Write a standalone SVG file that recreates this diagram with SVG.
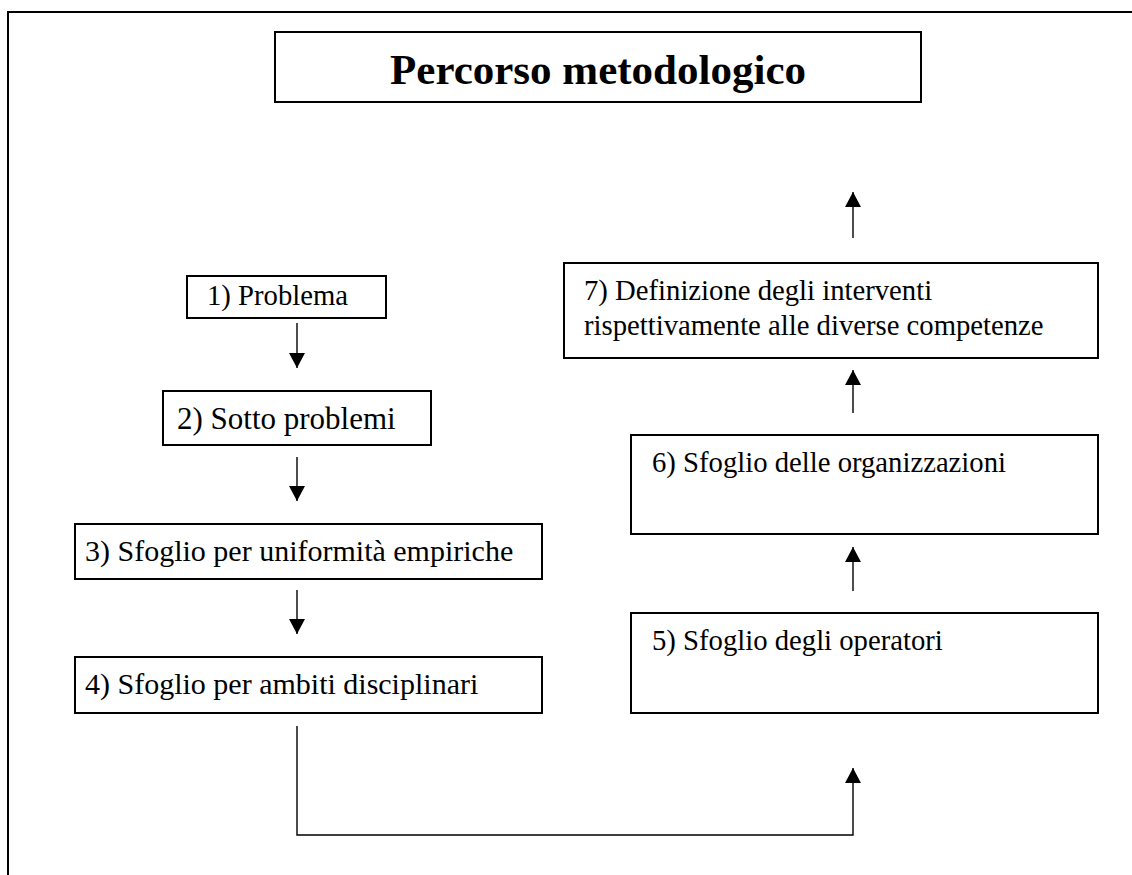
<svg xmlns="http://www.w3.org/2000/svg" width="1132" height="875" viewBox="0 0 1132 875">
<style>
.box{fill:#fff;stroke:#000;stroke-width:2}
.t{font-family:"Liberation Serif","Times New Roman",serif;font-size:28.7px;fill:#000}
.tl{font-family:"Liberation Serif","Times New Roman",serif;font-size:30px;fill:#000}
.title{font-family:"Liberation Serif","Times New Roman",serif;font-size:43px;font-weight:bold;fill:#000}
.c{fill:none;stroke:#000;stroke-width:1.4}
</style>
<defs>
<marker id="ah" markerUnits="userSpaceOnUse" markerWidth="16" markerHeight="16" viewBox="0 0 15 16" refX="15" refY="8" orient="auto">
<path d="M0,0 L15,8 L0,16 Z" fill="#000"/>
</marker>
</defs>
<rect x="0" y="0" width="1132" height="875" fill="#fff"/>
<rect x="8" y="12" width="1200" height="900" fill="none" stroke="#000" stroke-width="2"/>
<g id="title">
<rect class="box" x="275" y="32" width="646" height="70"/>
<text class="title" x="598" y="84" text-anchor="middle">Percorso metodologico</text>
</g>
<g id="n1">
<rect class="box" x="187" y="276" width="199" height="42"/>
<text class="t" x="207" y="305">1) Problema</text>
</g>
<g id="n2">
<rect class="box" x="163" y="391" width="268" height="54"/>
<text class="tl" x="177" y="429" style="font-size:31px">2) Sotto problemi</text>
</g>
<g id="n3">
<rect class="box" x="75" y="524" width="467" height="55"/>
<text class="tl" x="85" y="561">3) Sfoglio per uniformità empiriche</text>
</g>
<g id="n4">
<rect class="box" x="75" y="657" width="467" height="56"/>
<text class="tl" x="85" y="694">4) Sfoglio per ambiti disciplinari</text>
</g>
<g id="n5">
<rect class="box" x="631" y="613" width="467" height="100"/>
<text class="t" x="652" y="650">5) Sfoglio degli operatori</text>
</g>
<g id="n6">
<rect class="box" x="631" y="435" width="467" height="99"/>
<text class="t" x="652" y="472">6) Sfoglio delle organizzazioni</text>
</g>
<g id="n7">
<rect class="box" x="564" y="263" width="534" height="95"/>
<text class="t" x="584" y="300">7) Definizione degli interventi</text>
<text class="t" x="584" y="335">rispettivamente alle diverse competenze</text>
</g>
<g id="connectors">
<path class="c" d="M297,323 V368" marker-end="url(#ah)"/>
<path class="c" d="M297,457 V501" marker-end="url(#ah)"/>
<path class="c" d="M297,590 V634" marker-end="url(#ah)"/>
<path class="c" d="M297,726 V835 H853 V768" marker-end="url(#ah)"/>
<path class="c" d="M853,591 V547" marker-end="url(#ah)"/>
<path class="c" d="M853,413 V370" marker-end="url(#ah)"/>
<path class="c" d="M853,238 V192" marker-end="url(#ah)"/>
</g>
</svg>
